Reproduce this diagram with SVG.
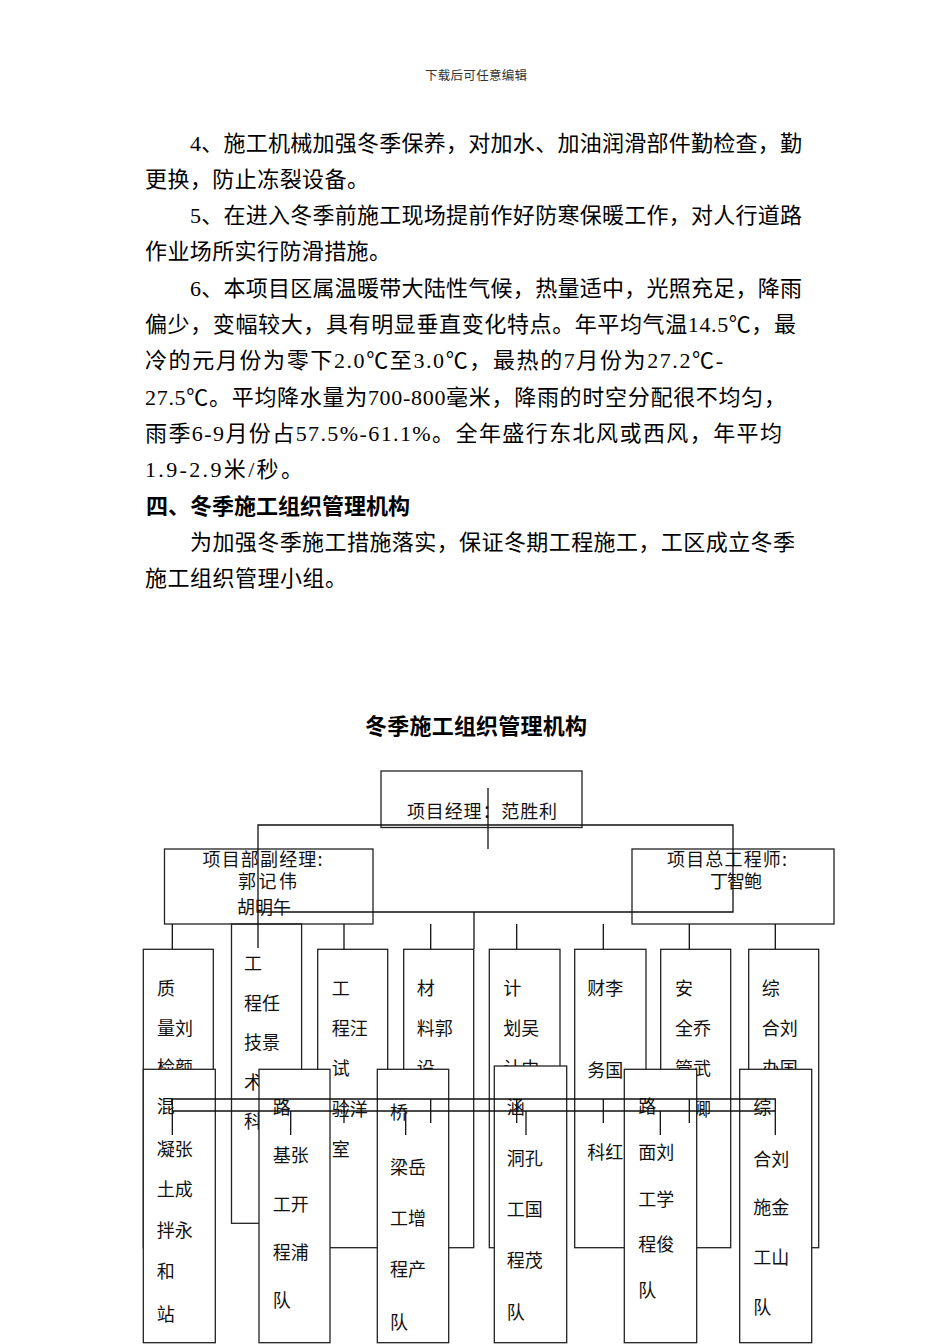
<svg xmlns="http://www.w3.org/2000/svg" width="950" height="1344" viewBox="0 0 950 1344">
<style>
.bg{fill:#fff}
.p{font-family:"Liberation Serif","Noto Sans CJK SC",serif;font-size:22px;fill:#000}
.b{font-family:"Noto Sans CJK SC",sans-serif;font-size:22px;font-weight:bold;fill:#000}
.hd{font-family:"Noto Sans CJK SC",sans-serif;font-size:12.5px;fill:#333}
.l{font-family:"Noto Sans CJK SC",sans-serif;font-size:18px;fill:#111}
.box{fill:none;stroke:#222;stroke-width:1.3}
.boxw{fill:#fff;stroke:#222;stroke-width:1.3}
.c{fill:none;stroke:#111;stroke-width:1.3}
</style>
<rect class="bg" x="0" y="0" width="950" height="1344"/>
<g id="page-text">
<text class="hd" x="425" y="80" textLength="102">下载后可任意编辑</text>
<text class="p" x="190" y="150.5" textLength="612">4、施工机械加强冬季保养，对加水、加油润滑部件勤检查，勤</text>
<text class="p" x="145" y="186.8" textLength="224">更换，防止冻裂设备。</text>
<text class="p" x="190" y="223.1" textLength="612">5、在进入冬季前施工现场提前作好防寒保暖工作，对人行道路</text>
<text class="p" x="145" y="259.4" textLength="246">作业场所实行防滑措施。</text>
<text class="p" x="190" y="295.7" textLength="612">6、本项目区属温暖带大陆性气候，热量适中，光照充足，降雨</text>
<text class="p" x="145" y="332" textLength="651">偏少，变幅较大，具有明显垂直变化特点。年平均气温14.5℃，最</text>
<text class="p" x="145" y="368.3" textLength="578">冷的元月份为零下2.0℃至3.0℃，最热的7月份为27.2℃-</text>
<text class="p" x="145" y="404.6" textLength="641">27.5℃。平均降水量为700-800毫米，降雨的时空分配很不均匀，</text>
<text class="p" x="145" y="440.9" textLength="637">雨季6-9月份占57.5%-61.1%。全年盛行东北风或西风，年平均</text>
<text class="p" x="145" y="477.2" textLength="158">1.9-2.9米/秒。</text>
<text class="b" x="146" y="513.5" textLength="264">四、冬季施工组织管理机构</text>
<text class="p" x="190" y="549.8" textLength="605">为加强冬季施工措施落实，保证冬期工程施工，工区成立冬季</text>
<text class="p" x="145" y="586.1" textLength="202">施工组织管理小组。</text>
<text class="b" x="365" y="734" textLength="222">冬季施工组织管理机构</text>
</g>
<g id="n-manager">
<rect class="box" x="381" y="771" width="201" height="56.5"/>
<text class="l" x="407" y="818" font-size="18.5" textLength="150">项目经理：范胜利</text>
</g>
<g id="n-deputy">
<rect class="box" x="164.5" y="849" width="208.5" height="75"/>
<text class="l" x="202.5" y="866" font-size="17" textLength="120">项目部副经理:</text>
<text class="l" x="238" y="888" font-size="17" textLength="59">郭记伟</text>
<text class="l" x="237" y="914" font-size="21.5">胡明午</text>
</g>
<g id="n-chief">
<rect class="box" x="632" y="849" width="202" height="75"/>
<text class="l" x="667" y="866" font-size="17" textLength="120">项目总工程师:</text>
<text class="l" x="710" y="888" font-size="17" textLength="52">丁智鲍</text>
</g>
<g id="n-quality">
<rect class="box" x="143.3" y="949.3" width="70" height="298.4"/>
<text class="l" x="157" y="995">质</text>
<text class="l" x="157" y="1034.5">量刘</text>
<text class="l" x="157" y="1074">检颜</text>
</g>
<g id="n-tech">
<rect class="box" x="231.5" y="924" width="70.1" height="299.3"/>
<text class="l" x="244" y="970">工</text>
<text class="l" x="244" y="1010">程任</text>
<text class="l" x="244" y="1049">技景</text>
<text class="l" x="244" y="1089">术</text>
<text class="l" x="244" y="1128">科</text>
</g>
<g id="n-lab">
<rect class="box" x="317.7" y="949.3" width="70" height="298.4"/>
<text class="l" x="331.7" y="995">工</text>
<text class="l" x="331.7" y="1035">程汪</text>
<text class="l" x="331.7" y="1075">试</text>
<text class="l" x="331.7" y="1116">验洋</text>
<text class="l" x="331.7" y="1156">室</text>
</g>
<g id="n-material">
<rect class="box" x="403.7" y="949.3" width="70" height="298.4"/>
<text class="l" x="416.7" y="995">材</text>
<text class="l" x="416.7" y="1035">料郭</text>
<text class="l" x="416.7" y="1075">设</text>
</g>
<g id="n-plan">
<rect class="box" x="489.3" y="949.3" width="70.7" height="298.4"/>
<text class="l" x="503.3" y="995">计</text>
<text class="l" x="503.3" y="1035">划吴</text>
<text class="l" x="503.3" y="1075">计中</text>
</g>
<g id="n-finance">
<rect class="box" x="574.7" y="949.3" width="71.3" height="298.4"/>
<text class="l" x="587.3" y="995">财李</text>
<text class="l" x="587.3" y="1077">务国</text>
<text class="l" x="587.3" y="1159">科红</text>
</g>
<g id="n-safety">
<rect class="box" x="660.7" y="949.3" width="70" height="298.4"/>
<text class="l" x="675" y="995">安</text>
<text class="l" x="675" y="1035">全乔</text>
<text class="l" x="675" y="1075">管武</text>
<text class="l" x="693" y="1116">卿</text>
</g>
<g id="n-office">
<rect class="box" x="748.7" y="949.3" width="70" height="298.4"/>
<text class="l" x="761.7" y="995">综</text>
<text class="l" x="761.7" y="1035">合刘</text>
<text class="l" x="761.7" y="1075">办国</text>
</g>
<g id="n-mixing">
<rect class="boxw" x="143.3" y="1069.3" width="72" height="273.4"/>
<text class="l" x="156.7" y="1113">混</text>
<text class="l" x="156.7" y="1156">凝张</text>
<text class="l" x="156.7" y="1196">土成</text>
<text class="l" x="156.7" y="1237">拌永</text>
<text class="l" x="156.7" y="1278">和</text>
<text class="l" x="156.7" y="1321">站</text>
</g>
<g id="n-subgrade">
<rect class="boxw" x="259" y="1069.3" width="71" height="273.4"/>
<text class="l" x="272.7" y="1114">路</text>
<text class="l" x="272.7" y="1162">基张</text>
<text class="l" x="272.7" y="1211">工开</text>
<text class="l" x="272.7" y="1259">程浦</text>
<text class="l" x="272.7" y="1307">队</text>
</g>
<g id="n-bridge">
<rect class="boxw" x="377.3" y="1069.3" width="71.4" height="273.4"/>
<text class="l" x="390" y="1119">桥</text>
<text class="l" x="390" y="1174">梁岳</text>
<text class="l" x="390" y="1225">工增</text>
<text class="l" x="390" y="1276">程产</text>
<text class="l" x="390" y="1329">队</text>
</g>
<g id="n-culvert">
<rect class="boxw" x="494.3" y="1066" width="72.4" height="276.7"/>
<text class="l" x="506.7" y="1114">涵</text>
<text class="l" x="506.7" y="1165">洞孔</text>
<text class="l" x="506.7" y="1216">工国</text>
<text class="l" x="506.7" y="1267">程茂</text>
<text class="l" x="506.7" y="1319">队</text>
</g>
<g id="n-pavement">
<rect class="boxw" x="624.3" y="1069.3" width="72.4" height="273.4"/>
<text class="l" x="638.3" y="1113">路</text>
<text class="l" x="638.3" y="1159">面刘</text>
<text class="l" x="638.3" y="1206">工学</text>
<text class="l" x="638.3" y="1251">程俊</text>
<text class="l" x="638.3" y="1297">队</text>
</g>
<g id="n-general">
<rect class="boxw" x="739.7" y="1069.3" width="72" height="273.4"/>
<text class="l" x="753.3" y="1114">综</text>
<text class="l" x="753.3" y="1166">合刘</text>
<text class="l" x="753.3" y="1214">施金</text>
<text class="l" x="753.3" y="1264">工山</text>
<text class="l" x="753.3" y="1314">队</text>
</g>
<g id="connectors">
<path class="c" d="M488 788V849"/>
<path class="c" d="M258 948V825H733V912H258"/>
<path class="c" d="M474 912V949"/>
<path class="c" d="M172.3 924V949M344 924V949M430.7 924V949M516.7 924V949M603.3 924V949M689.3 924V949M775.3 924V949"/>
<path class="c" d="M172.3 1135V1099H775.3V1135M172.3 1111H775.3"/>
<path class="c" d="M344 1099V1123M430.7 1099V1123M516.7 1099V1123M603.3 1099V1123M689.3 1099V1123"/>
<path class="c" d="M290.7 1111V1135M405.7 1111V1135M526 1111V1135M660.3 1111V1135"/>
</g>
</svg>
